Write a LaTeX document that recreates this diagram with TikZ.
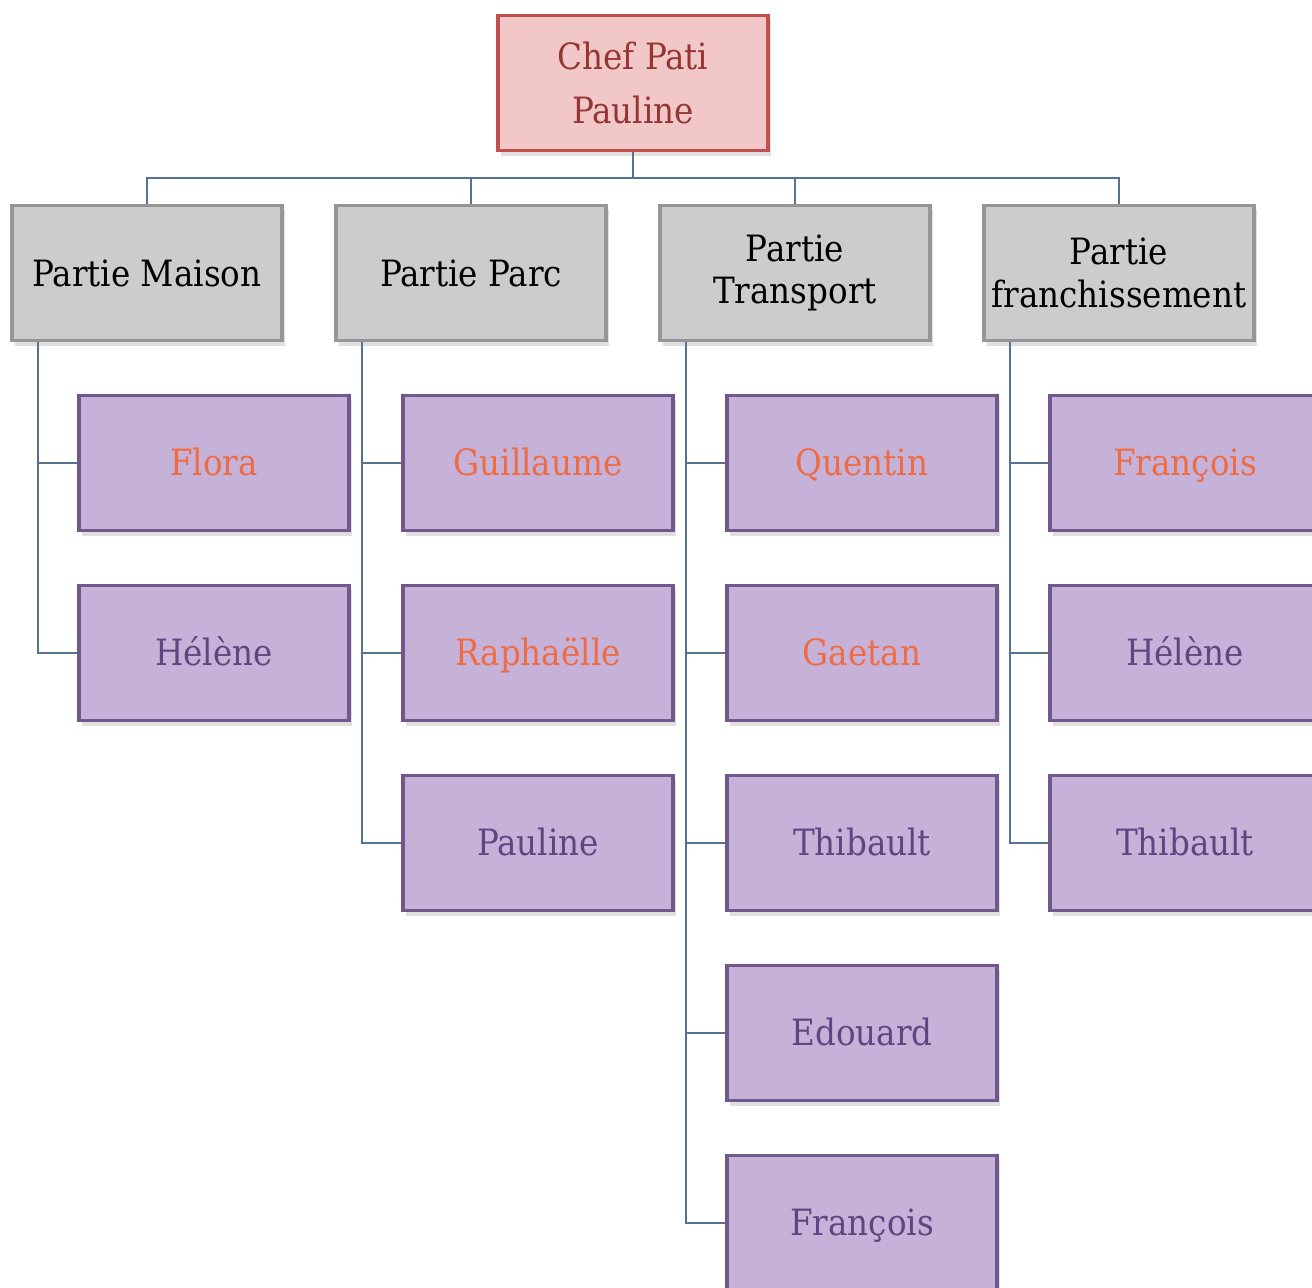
\documentclass[tikz,border=0pt]{standalone}
\usepackage{fontspec}
\setmainfont{DejaVu Serif Condensed}
\usetikzlibrary{shadows}
\definecolor{chefpink}{RGB}{242,199,199}
\definecolor{chefred}{RGB}{192,80,77}
\definecolor{cheftext}{RGB}{150,54,52}
\definecolor{partgray}{RGB}{204,204,204}
\definecolor{partline}{RGB}{150,150,150}
\definecolor{namelilac}{RGB}{198,178,216}
\definecolor{nameline}{RGB}{112,88,140}
\definecolor{nametext}{RGB}{96,70,128}
\definecolor{nameorange}{RGB}{238,108,68}
\definecolor{connblue}{RGB}{85,115,145}
\tikzstyle{box}=[rectangle,minimum width=2.7cm,minimum height=1.35cm,align=center,
  inner sep=1pt,line width=1.1pt,font=\fontsize{10.3}{12}\selectfont,
  drop shadow={shadow xshift=0.3mm,shadow yshift=-0.5mm,opacity=0.25}]
\tikzstyle{chefbox}=[box,fill=chefpink,draw=chefred,text=cheftext,
  font=\fontsize{10.3}{15.5}\selectfont]
\tikzstyle{partbox}=[box,fill=partgray,draw=partline,text=black]
\tikzstyle{namebox}=[box,fill=namelilac,draw=nameline,text=nametext,
  text height=2ex,text depth=0.6ex]
\tikzstyle{hot}=[text=nameorange]
\tikzstyle{conn}=[draw=connblue,line width=0.75pt]

\begin{document}
\begin{tikzpicture}[x=0.01cm,y=-0.01cm]
  \useasboundingbox (0,0) rectangle (1312,1287);
  \clip (0,0) rectangle (1312,1287);

  \node[chefbox] (chef) at (633,83) {Chef Pati\\Pauline};

  \node[partbox] (maison) at (147,273) {Partie Maison};
  \node[partbox] (parc) at (471,273) {Partie Parc};
  \node[partbox] (transport) at (795,273) {Partie\\Transport};
  \node[partbox] (franch) at (1119,273) {Partie\\franchissement};

  % Partie Maison
  \node[namebox,hot] (flora) at (214,463) {Flora};
  \node[namebox] (helene) at (214,653) {Hélène};

  % Partie Parc
  \node[namebox,hot] (guillaume) at (538,463) {Guillaume};
  \node[namebox,hot] (raphaelle) at (538,653) {Raphaëlle};
  \node[namebox] (pauline) at (538,843) {Pauline};

  % Partie Transport
  \node[namebox,hot] (quentin) at (862,463) {Quentin};
  \node[namebox,hot] (gaetan) at (862,653) {Gaetan};
  \node[namebox] (thibault) at (862,843) {Thibault};
  \node[namebox] (edouard) at (862,1033) {Edouard};
  \node[namebox] (francois) at (862,1223) {François};

  % Partie franchissement
  \node[namebox,hot] (francoisf) at (1185,463) {François};
  \node[namebox] (helenef) at (1185,653) {Hélène};
  \node[namebox] (thibaultf) at (1185,843) {Thibault};

  \coordinate (bus) at (633,178);
  \draw[conn] (chef.south) -- (bus);
  \foreach \p in {maison,parc,transport,franch}
    \draw[conn] (bus) -| (\p.north);

  \foreach \n in {flora,helene}
    \draw[conn] ([xshift=0.28cm]maison.south west) |- (\n.west);
  \foreach \n in {guillaume,raphaelle,pauline}
    \draw[conn] ([xshift=0.28cm]parc.south west) |- (\n.west);
  \foreach \n in {quentin,gaetan,thibault,edouard,francois}
    \draw[conn] ([xshift=0.28cm]transport.south west) |- (\n.west);
  \foreach \n in {francoisf,helenef,thibaultf}
    \draw[conn] ([xshift=0.28cm]franch.south west) |- (\n.west);
\end{tikzpicture}
\end{document}
